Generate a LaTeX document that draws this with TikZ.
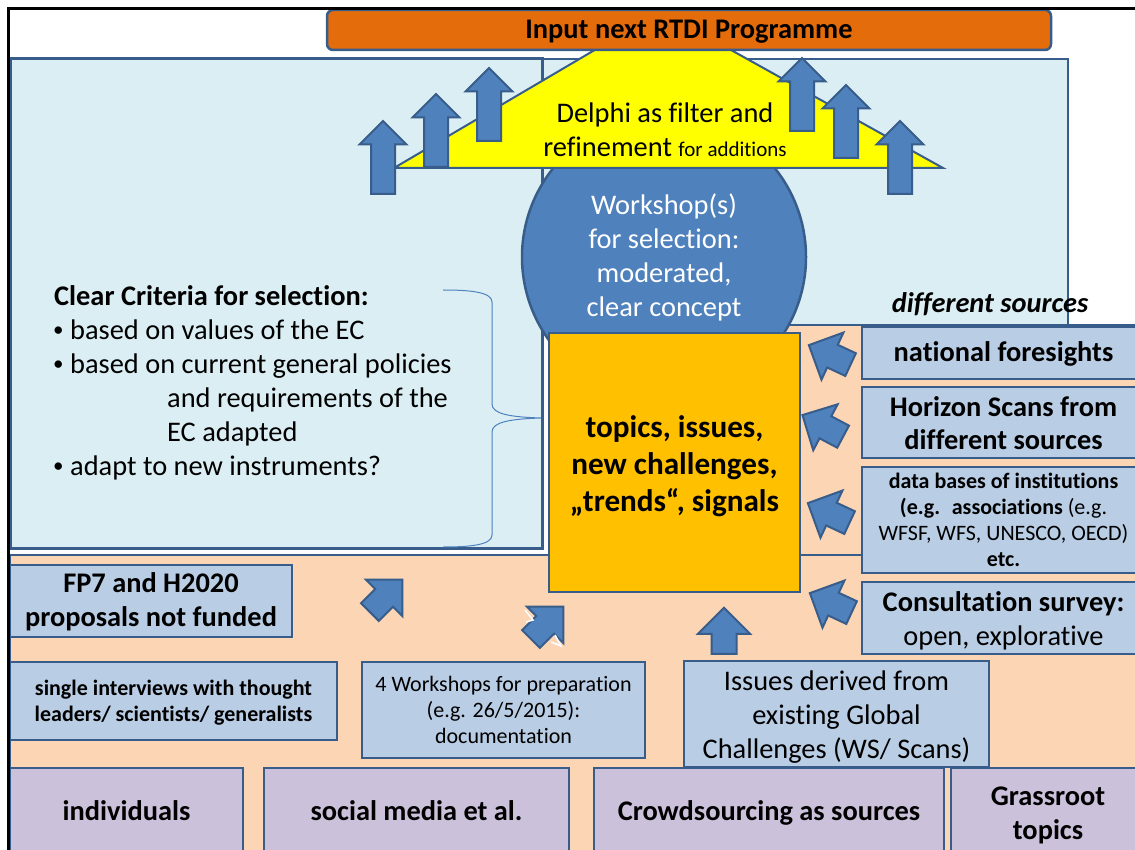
\documentclass[tikz,border=0pt]{standalone}
\usepackage{fontspec}
\setmainfont{Carlito}[Ligatures={TeX,NoCommon}]
\usetikzlibrary{shapes.arrows}

\definecolor{edge}{HTML}{385D8A}
\definecolor{arrowfill}{HTML}{4F81BD}
\definecolor{palecyan}{HTML}{DBEEF4}
\definecolor{peach}{HTML}{FCD5B5}
\definecolor{boxblue}{HTML}{B9CDE5}
\definecolor{lilac}{HTML}{CCC1DA}
\definecolor{titleorange}{HTML}{E46C0A}
\definecolor{amber}{HTML}{FFC000}
\definecolor{delphiyellow}{HTML}{FFFF00}

\newcommand\pxfont[2]{\fontsize{#1}{#2}\selectfont}
\newcommand\bul{\makebox[16pt][l]{\hspace{-1pt}\raisebox{2.5pt}{\pxfont{21}{34}•}}}
% invisible struts fixing the height of a first line and the depth of a last line
\newcommand\tophgt[1]{\rule{0pt}{#1pt}}
\newcommand\botdep[1]{\rule[-#1pt]{0pt}{#1pt}}

\begin{document}
\begin{tikzpicture}[x=1pt,y=-1pt,
  panel/.style={draw=edge, line width=2.5pt, inner sep=0pt, outer sep=0pt, align=center},
  infobox/.style={panel, fill=boxblue},
  sourcebox/.style={panel, fill=lilac, font=\pxfont{28.4}{34}\bfseries},
  uparrow/.style={single arrow, draw=edge, fill=arrowfill, line width=2pt,
    single arrow tip angle=90, single arrow head extend=11.5pt,
    inner xsep=0pt, inner ysep=11pt, minimum height=73pt, rotate=90},
  feedarrow/.style={single arrow, draw=edge, fill=arrowfill, line width=2pt,
    single arrow tip angle=90, single arrow head extend=13.5pt,
    inner xsep=0pt, inner ysep=11.5pt, minimum height=46pt},
  big/.style={font=\pxfont{28.4}{34}},
  small/.style={font=\pxfont{22}{26}}
]
\useasboundingbox (0,0) rectangle (1135,850);
\clip (0,0) rectangle (1135,850);
\fill[white] (0,0) rectangle (1135,850);

% background panels
\node[panel, fill=palecyan, minimum width=1058pt, minimum height=266pt] (upper) at (539,192) {};
\node[panel, fill=peach, minimum width=596pt, minimum height=230pt] (peachtop) at (847,440) {};
\node[panel, fill=peach, minimum width=1135pt, minimum height=305pt] (peachlow) at (577.5,707.5) {};
\node[panel, fill=palecyan, line width=3pt, minimum width=532pt, minimum height=489pt] (criteria) at (276,303.5) {};

% selection workshop
\node[circle, draw=edge, fill=arrowfill, line width=2.5pt, minimum size=284pt, inner sep=0pt,
      text=white, align=center, big] (ws) at (664,257) {Workshop(s)\\for selection:\\moderated,\\clear concept};

% Delphi triangle
\draw[draw=edge, fill=delphiyellow, line width=2pt] (394,168) -- (661,11) -- (943,168) -- cycle;
\node[align=center, big, inner sep=0pt] (delphi) at (665,130)
  {Delphi as filter and\\refinement {\pxfont{21}{26}for additions}};

% arrows rising through the triangle
\node[uparrow] (u1) at (383,163.5) {};
\node[uparrow] (u2) at (436,136.5) {};
\node[uparrow] (u3) at (489,110.5) {};
\node[uparrow] (u4) at (802,100.5) {};
\node[uparrow] (u5) at (846,127.5) {};
\node[uparrow] (u6) at (900,163.5) {};

% programme bar
\node[panel, fill=titleorange, rounded corners=6pt, minimum width=724pt, minimum height=40pt,
      font=\pxfont{28.4}{34}\bfseries] (input) at (689,30) {\tophgt{25.6}\botdep{8.5}Input next RTDI Programme};

% central topics box
\node[panel, fill=amber, minimum width=251pt, minimum height=259pt,
      font=\pxfont{31.2}{37}\bfseries] (topics) at (674.5,462.5)
  {\tophgt{33.1}topics, issues,\\new challenges,\\„trends“, signals\botdep{9.4}};

% right-hand sources
\node[infobox, minimum width=283pt, minimum height=52pt, font=\pxfont{28.4}{34}\bfseries] (national) at (1003.5,353)
  {\tophgt{25.6}\botdep{8.5}national foresights};
\node[infobox, minimum width=283pt, minimum height=71pt, font=\pxfont{28.4}{33}\bfseries] (horizon) at (1003.5,422.5)
  {\tophgt{29.6}Horizon Scans from\\different sources\botdep{8.5}};
\node[infobox, minimum width=283pt, minimum height=106pt, small] (databases) at (1003.5,520)
  {\tophgt{21.8}\textbf{data bases of institutions}\\\textbf{(e.g.~ associations} (e.g.\\WFSF, WFS, UNESCO, OECD)\\\textbf{etc.}\botdep{6.6}};
\node[infobox, minimum width=283pt, minimum height=70pt, big] (consult) at (1003.5,618)
  {\tophgt{29.6}\textbf{Consultation survey:}\\open, explorative\botdep{8.5}};

% lower sources
\node[infobox, minimum width=282pt, minimum height=72pt, font=\pxfont{28.4}{34}\bfseries] (fp7) at (151,601)
  {\tophgt{25.6}FP7 and H2020\\proposals not funded\botdep{8.5}};
\node[infobox, minimum width=327pt, minimum height=78pt, font=\pxfont{22}{26}\bfseries] (interviews) at (173.5,701)
  {\tophgt{21.8}single interviews with thought\\leaders/ scientists/ generalists\botdep{6.6}};
\node[infobox, minimum width=283pt, minimum height=96pt, font=\pxfont{22}{26}] (prep) at (503.5,710)
  {\tophgt{21.8}4 Workshops for preparation\\(e.g. 26/5/2015):\\documentation\botdep{6.6}};
\node[infobox, minimum width=305pt, minimum height=104pt, big] (issues) at (836.5,714)
  {\tophgt{29.6}Issues derived from\\existing Global\\Challenges (WS/ Scans)\botdep{8.5}};

% bottom row
\node[sourcebox, minimum width=233pt, minimum height=88pt] (individuals) at (126.5,812) {\tophgt{25.6}\botdep{8.5}individuals};
\node[sourcebox, minimum width=305pt, minimum height=88pt] (social) at (416.5,812) {\tophgt{25.6}\botdep{8.5}social media et al.};
\node[sourcebox, minimum width=350pt, minimum height=88pt] (crowd) at (769,812) {\tophgt{25.6}\botdep{8.5}Crowdsourcing as sources};
\node[sourcebox, minimum width=194pt, minimum height=88pt] (grass) at (1048,812) {\tophgt{29.6}Grassroot\\topics\botdep{8.5}};

% arrows feeding the topics box
\node[feedarrow, rotate=155] (f1) at (835.4,357.5) {};
\node[feedarrow, rotate=152] (f2) at (828.3,428.8) {};
\node[feedarrow, rotate=155] (f3) at (834.4,515.5) {};
\node[feedarrow, rotate=155] (f4) at (836.4,605.5) {};
\node[feedarrow, rotate=90] (f5) at (724,637) {};
\node[feedarrow, rotate=45] (f6) at (381.8,600.2) {};
\node[feedarrow, rotate=45] (f7) at (542.8,627.2) {};
\draw[white, line width=1.5pt] (525,610) -- (533,620) -- (526,622);
\draw[white, line width=1.5pt] (551,642) -- (561,646) -- (555,635);

% criteria text and brace
\node[anchor=north west, inner sep=0pt, align=left, font=\pxfont{28.4}{34}] (crittext) at (54,285)
  {\textbf{Clear Criteria for selection:}\\
   \bul based on values of the EC\\
   \bul based on current general policies\\
   \hspace*{113pt}and requirements of the\\
   \hspace*{113pt}EC adapted\\
   \bul adapt to new instruments?};
\draw[arrowfill, line width=1pt] (443,290) .. controls (470,290) and (492,292) .. (492,302)
  -- (492,404) .. controls (492,414) and (510,417) .. (541,418)
  .. controls (510,419) and (492,422) .. (492,432)
  -- (492,535) .. controls (492,545) and (470,547) .. (443,547);

\node[font=\pxfont{28.4}{32}\bfseries\itshape, inner sep=0pt] (diffsrc) at (990,304) {different sources};

% outer frame
\draw[black, line width=2.5pt] (8.5,860) -- (8.5,8.5) -- (1145,8.5);
\end{tikzpicture}
\end{document}
